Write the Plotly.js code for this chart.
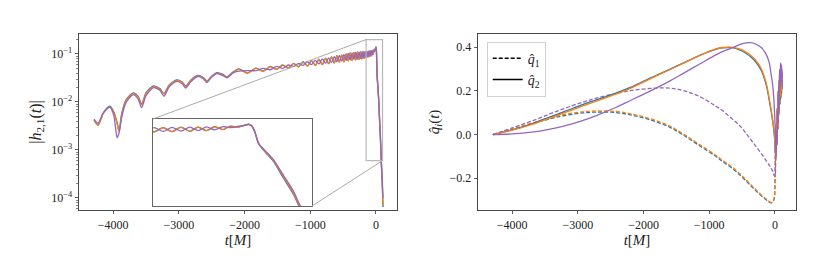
<!DOCTYPE html>
<html><head><meta charset="utf-8">
<script src="https://cdn.plot.ly/plotly-3.0.1.min.js"></script>
<style>html,body{margin:0;padding:0;background:#fff}#chart{width:830px;height:277px}</style>
</head><body><div id="chart"></div>
<script>
// ---------- Left panel: |h_{2,1}(t)| ----------
const T_H = [-4292,-4230,-4150,-4052,-3990,-3940,-3910,-3870,-3800,-3695,-3620,-3567,-3500,-3388,-3290,-3226,-3150,-3032,-2950,-2895,-2820,-2712,-2630,-2574,-2500,-2421,-2330,-2268,-2180,
 -2090,-1955,-1830,-1715,-1610,-1512,-1420,-1334,-1254,-1179,-1109,-1043,-981,-923,-868,-816,-767,-721,-677,-635,-595,-557,-521,-487,-454,-423,-393,-364,-336,-309,-283,-258,-234,-214,-196,-179,-163,-148,-134,-120,-106,-92,-79,-66,-53,-40,-28,-17,
 -8,0,5,10,16,24,39,55,71,81,95,107];

const H_BLUE = [4.2e-3,3.3e-3,5.9e-3,8.2e-3,6.2e-3,3.7e-3,2.5e-3,5.7e-3,1.13e-2,1.55e-2,1.29e-2,9.0e-3,1.55e-2,2.16e-2,1.9e-2,1.5e-2,2.25e-2,2.88e-2,2.6e-2,2.15e-2,2.85e-2,3.58e-2,3.25e-2,2.75e-2,3.45e-2,4.08e-2,3.75e-2,3.35e-2,4.15e-2,
 0.049,0.040,0.051,0.044,0.055,0.048,0.059,0.051,0.064,0.054,0.069,0.056,0.073,0.058,0.078,0.060,0.082,0.063,0.087,0.065,0.092,0.068,0.096,0.069,0.101,0.072,0.106,0.073,0.108,0.075,0.111,0.077,0.112,0.079,0.113,0.081,0.113,0.085,0.113,0.086,0.116,0.088,0.117,0.092,0.120,0.099,0.125,0.115,
 0.129,0.141,0.128,0.084,0.039,0.0245,0.0122,0.0039,0.0013,0.00052,0.0002,0.000065];

const H_ORANGE = [4.2e-3,3.3e-3,5.8e-3,7.9e-3,6.0e-3,3.6e-3,2.4e-3,5.5e-3,1.1e-2,1.5e-2,1.25e-2,8.7e-3,1.5e-2,2.1e-2,1.85e-2,1.47e-2,2.2e-2,2.8e-2,2.55e-2,2.1e-2,2.8e-2,3.5e-2,3.2e-2,2.7e-2,3.4e-2,4.0e-2,3.7e-2,3.3e-2,4.1e-2,
 0.048,0.040,0.050,0.044,0.054,0.048,0.058,0.051,0.063,0.054,0.068,0.056,0.072,0.058,0.077,0.060,0.081,0.063,0.086,0.065,0.091,0.068,0.095,0.069,0.100,0.072,0.105,0.073,0.107,0.075,0.110,0.077,0.111,0.079,0.112,0.081,0.112,0.085,0.112,0.086,0.115,0.088,0.116,0.092,0.119,0.099,0.124,0.115,
 0.128,0.140,0.130,0.087,0.041,0.0254,0.0129,0.0042,0.0014,0.00056,0.00022,0.00007];

const H_PURPLE = [4.4e-3,3.6e-3,6.0e-3,7.8e-3,5.2e-3,1.8e-3,2.3e-3,4.8e-3,1.0e-2,1.42e-2,1.15e-2,7.6e-3,1.35e-2,2.0e-2,1.75e-2,1.32e-2,2.05e-2,2.7e-2,2.4e-2,1.95e-2,2.65e-2,3.4e-2,3.05e-2,2.55e-2,3.3e-2,3.9e-2,3.55e-2,3.2e-2,4.0e-2,
 0.044,0.045,0.045,0.050,0.047,0.055,0.050,0.059,0.055,0.064,0.058,0.069,0.060,0.074,0.062,0.079,0.064,0.083,0.066,0.088,0.069,0.093,0.071,0.098,0.073,0.103,0.075,0.106,0.077,0.108,0.078,0.110,0.080,0.111,0.082,0.112,0.084,0.113,0.087,0.114,0.089,0.116,0.092,0.118,0.097,0.121,0.112,0.123,
 0.128,0.138,0.128,0.090,0.038,0.027,0.0135,0.0047,0.0016,0.00064,0.00027,0.0001];

// ---------- Right panel: q_i(t) ----------
const T_Q = [-4294,-4000,-3700,-3440,-3200,-2930,-2729,-2424,-2200,-1916,-1610,-1408,-1153,-900,-800,-645,-518,-442,-366,-300,-213,-137,-87,-61,-40,-26,-10,0,8,15,22,30,38,46,54,62,70,78,86,94,102,110];

const Q1_BLUE   = [0,0.023,0.049,0.071,0.087,0.099,0.103,0.101,0.09,0.069,0.035,0.0,-0.05,-0.1,-0.123,-0.156,-0.19,-0.212,-0.235,-0.255,-0.279,-0.298,-0.309,-0.313,-0.311,-0.306,-0.29,-0.24,-0.06,-0.11,0.03,-0.05,0.11,0.02,0.19,0.09,0.25,0.14,0.29,0.17,0.29,0.21];
const Q1_ORANGE = [0,0.025,0.052,0.075,0.092,0.104,0.108,0.106,0.095,0.074,0.04,0.005,-0.045,-0.095,-0.118,-0.15,-0.185,-0.207,-0.23,-0.25,-0.275,-0.295,-0.307,-0.311,-0.31,-0.305,-0.29,-0.24,-0.05,-0.12,0.04,-0.04,0.12,0.03,0.2,0.1,0.26,0.15,0.3,0.18,0.3,0.22];
const Q1_PURPLE = [0,0.03,0.062,0.093,0.12,0.148,0.166,0.188,0.201,0.211,0.213,0.203,0.175,0.13,0.11,0.07,0.035,0.006,-0.024,-0.05,-0.085,-0.118,-0.14,-0.152,-0.165,-0.175,-0.19,-0.19,-0.06,-0.1,0.03,-0.03,0.12,0.05,0.2,0.12,0.28,0.18,0.32,0.22,0.3,0.24];

const Q2_BLUE   = [0,0.021,0.049,0.079,0.106,0.137,0.158,0.19,0.216,0.256,0.298,0.326,0.362,0.391,0.397,0.398,0.386,0.373,0.356,0.336,0.297,0.232,0.157,0.112,0.072,0.042,0.0,-0.045,-0.09,0.04,-0.04,0.11,0.03,0.19,0.09,0.24,0.14,0.27,0.16,0.29,0.19,0.25];
const Q2_ORANGE = [0,0.02,0.046,0.074,0.1,0.13,0.152,0.185,0.212,0.253,0.296,0.325,0.362,0.393,0.399,0.4,0.39,0.378,0.362,0.343,0.305,0.24,0.165,0.12,0.08,0.05,0.005,-0.04,-0.09,0.05,-0.03,0.12,0.04,0.2,0.1,0.25,0.15,0.28,0.17,0.3,0.2,0.26];
const Q2_PURPLE = [0,0.003,0.011,0.024,0.04,0.064,0.086,0.124,0.156,0.197,0.244,0.278,0.322,0.365,0.38,0.398,0.414,0.42,0.421,0.416,0.4,0.37,0.33,0.28,0.24,0.2,0.126,0.06,-0.02,-0.09,0.02,-0.05,0.12,0.05,0.22,0.12,0.3,0.2,0.33,0.24,0.32,0.22];

const COLORS = {blue:'#1f77b4', orange:'#ff7f0e', purple:'#9467bd'};
const LOG_TICKS = [1e-4,1e-3,1e-2,1e-1];
const LOG_TICKTEXT = ['10<sup>−4</sup>','10<sup>−3</sup>','10<sup>−2</sup>','10<sup>−1</sup>'];
const X_TICKS = [-4000,-3000,-2000,-1000,0];
const Q_TICKS = [-0.2,0,0.2,0.4];

// ---------- geometry ----------
const XD1 = [0.0952,0.4783], XD2 = [0.5759,0.959], YD = [0.2419,0.8773];
const XR = [-4520,320], YR1 = [-4.25,-0.583], YR2 = [-0.346,0.461];
const XD3 = [0.1843,0.3759], YD3 = [0.2563,0.5704];
const ZOOM_X = [-150,100], ZOOM_Y = [6e-4,0.2];

const minorVals = [];
for (let d=-5; d<=0; d++) for (let m=2; m<=9; m++) minorVals.push(m*Math.pow(10,d));

const FONT = 'Liberation Serif';
const LW = 1.3;
const traces = [];
const hSeries = [[H_BLUE,COLORS.blue],[H_ORANGE,COLORS.orange],[H_PURPLE,COLORS.purple]];
hSeries.forEach(([v,c])=>traces.push({x:T_H,y:v,xaxis:'x',yaxis:'y',type:'scatter',mode:'lines',line:{color:c,width:LW,shape:'spline',smoothing:0.7},showlegend:false,hoverinfo:'skip'}));
hSeries.forEach(([v,c])=>traces.push({x:T_H,y:v,xaxis:'x3',yaxis:'y3',type:'scatter',mode:'lines',line:{color:c,width:LW,shape:'spline',smoothing:0.7},showlegend:false,hoverinfo:'skip'}));
[[Q1_BLUE,COLORS.blue],[Q1_ORANGE,COLORS.orange],[Q1_PURPLE,COLORS.purple]].forEach(([v,c])=>traces.push({x:T_Q,y:v,xaxis:'x2',yaxis:'y2',type:'scatter',mode:'lines',line:{color:c,width:LW,dash:'4px,2px',shape:'spline',smoothing:1},showlegend:false,hoverinfo:'skip'}));
[[Q2_BLUE,COLORS.blue],[Q2_ORANGE,COLORS.orange],[Q2_PURPLE,COLORS.purple]].forEach(([v,c])=>traces.push({x:T_Q,y:v,xaxis:'x2',yaxis:'y2',type:'scatter',mode:'lines',line:{color:c,width:LW,shape:'spline',smoothing:1},showlegend:false,hoverinfo:'skip'}));
// legend entries
traces.push({x:[null],y:[null],xaxis:'x2',yaxis:'y2',type:'scatter',mode:'lines',name:'<i>q̂</i><sub>1</sub>',line:{color:'black',width:1.4,dash:'4px,2px'}});
traces.push({x:[null],y:[null],xaxis:'x2',yaxis:'y2',type:'scatter',mode:'lines',name:'<i>q̂</i><sub>2</sub>',line:{color:'black',width:1.4}});

const AX = '#333';
function baseAxis(extra){
  return Object.assign({showline:true,mirror:true,linecolor:AX,linewidth:0.9,ticks:'outside',ticklen:3.5,tickwidth:0.8,tickcolor:AX,showgrid:false,zeroline:false,tickfont:{family:FONT,size:12,color:'#222'}},extra);
}
const xTitle = {text:'<i>t</i>[<i>M</i>]',font:{family:FONT,size:15,color:'#222'},standoff:1};

function px(t){return XD1[0]+(t-XR[0])/(XR[1]-XR[0])*(XD1[1]-XD1[0]);}
function py(v){return YD[0]+(Math.log10(v)-YR1[0])/(YR1[1]-YR1[0])*(YD[1]-YD[0]);}

const layout = {
  width:830,height:277,margin:{l:0,r:0,t:0,b:0},
  paper_bgcolor:'white',plot_bgcolor:'white',
  font:{family:FONT,size:12,color:'#222'},
  showlegend:true,
  xaxis:baseAxis({domain:XD1,anchor:'y',range:XR,tickmode:'array',tickvals:X_TICKS,title:xTitle}),
  yaxis:baseAxis({domain:YD,anchor:'x',type:'log',range:YR1,tickmode:'array',tickvals:LOG_TICKS,ticktext:LOG_TICKTEXT,
    minor:{tickmode:'array',tickvals:minorVals,ticks:'outside',ticklen:2,tickwidth:0.6,tickcolor:AX},
    title:{text:'|<i>h</i><sub>2,1</sub>(<i>t</i>)|',font:{family:FONT,size:16,color:'#222'},standoff:5}}),
  xaxis2:baseAxis({domain:XD2,anchor:'y2',range:XR,tickmode:'array',tickvals:X_TICKS,title:xTitle}),
  yaxis2:baseAxis({domain:YD,anchor:'x2',range:YR2,tickmode:'array',tickvals:Q_TICKS,tickformat:'.1f',
    title:{text:'<i>q̂<sub>i</sub></i>(<i>t</i>)',font:{family:FONT,size:15,color:'#222'},standoff:6}}),
  xaxis3:{domain:XD3,anchor:'y3',range:ZOOM_X,showticklabels:false,ticks:'',showline:true,mirror:true,linecolor:'#555',linewidth:0.9,showgrid:false,zeroline:false},
  yaxis3:{domain:YD3,anchor:'x3',type:'log',range:[Math.log10(ZOOM_Y[0]),Math.log10(ZOOM_Y[1])],showticklabels:false,ticks:'',showline:true,mirror:true,linecolor:'#555',linewidth:0.9,showgrid:false,zeroline:false},
  legend:{x:0.5864,y:0.8495,xanchor:'left',yanchor:'top',bordercolor:'#d0d0d0',borderwidth:1,bgcolor:'rgba(255,255,255,0.85)',font:{family:FONT,size:14,color:'#222'},tracegroupgap:0},
  shapes:[
    {type:'rect',xref:'paper',yref:'paper',x0:px(ZOOM_X[0]),x1:px(ZOOM_X[1]),y0:py(ZOOM_Y[0]),y1:py(ZOOM_Y[1]),line:{color:'#b8b8b8',width:1.2},layer:'above'},
    {type:'line',xref:'paper',yref:'paper',x0:XD3[0],y0:YD3[1],x1:px(ZOOM_X[0]),y1:py(ZOOM_Y[1]),line:{color:'#a0a0a0',width:0.9},layer:'above'},
    {type:'line',xref:'paper',yref:'paper',x0:XD3[1],y0:YD3[0],x1:px(ZOOM_X[1]),y1:py(ZOOM_Y[0]),line:{color:'#a0a0a0',width:0.9},layer:'above'}
  ]
};
Plotly.newPlot('chart',traces,layout,{staticPlot:true,displayModeBar:false});
</script></body></html>
